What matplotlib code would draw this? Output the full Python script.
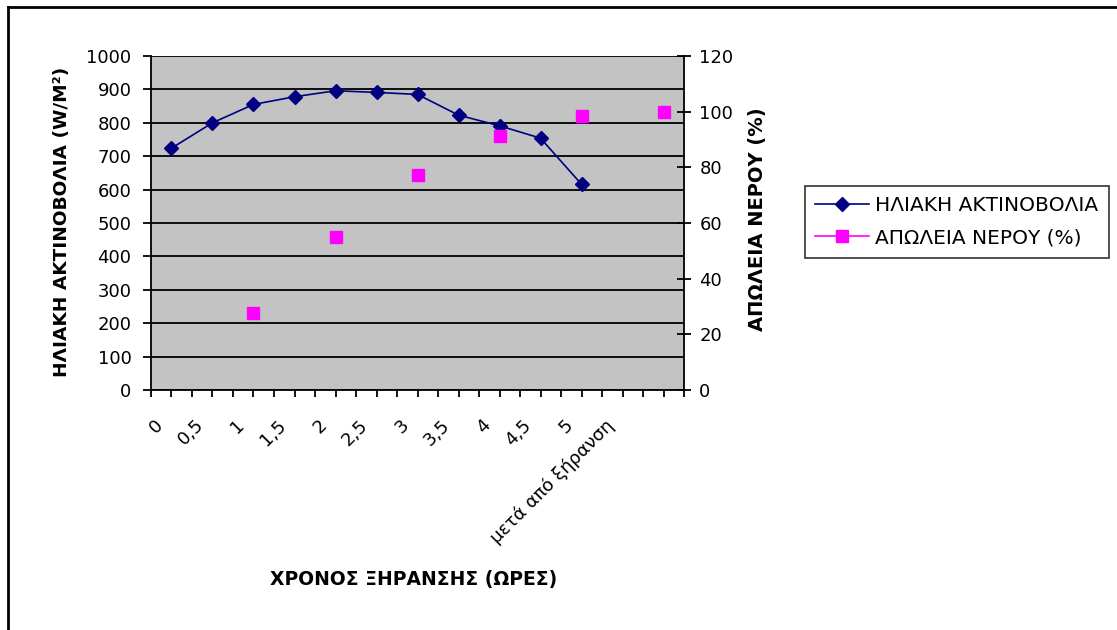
import matplotlib
matplotlib.use('Agg')
import matplotlib.pyplot as plt
import matplotlib.transforms as mtransforms
from matplotlib.lines import Line2D

# ---- data ----
categories = ['0', '0,5', '1', '1,5', '2', '2,5', '3', '3,5', '4', '4,5', '5',
              'μετά από ξήρανση', '']
radiation = [724, 800, 855, 878, 896, 891, 885, 823, 791, 754, 616]   # W/m²
water_cat_index = [2, 4, 6, 8, 10, 12]
water_loss = [27.6, 54.9, 77.3, 91.4, 98.6, 100]                     # %
left_ticks = list(range(0, 1001, 100))
right_ticks = list(range(0, 121, 20))

plt.rcParams['font.family'] = ['DejaVu Sans']

W, H = 1117, 630
fig = plt.figure(figsize=(W / 100, H / 100), dpi=100)
fig.patch.set_facecolor('white')

L, R, T, B = 151, 684, 56, 390
ax = fig.add_axes([L / W, 1 - B / H, (R - L) / W, (B - T) / H])
ax2 = ax.twinx()

ncat = len(categories)
pos = [2 * i + 1 for i in range(ncat)]          # category centres
ax.set_xlim(0, 2 * ncat)
ax.set_xticks(range(0, 2 * ncat + 1))
ax.set_xticklabels([])

ax.set_facecolor('#c3c3c3')
ax.set_ylim(0, 1000)
ax.set_yticks(left_ticks)
ax.set_yticklabels([str(v) for v in left_ticks], fontsize=13)
ax.grid(axis='y', color='black', lw=1.3)
ax.set_axisbelow(True)

ax2.set_ylim(0, 120)
ax2.set_yticks(right_ticks)
ax2.set_yticklabels([str(v) for v in right_ticks], fontsize=13)

for a in (ax, ax2):
    a.spines['top'].set_visible(False)
    for s in a.spines.values():
        s.set_linewidth(1.3)
        s.set_color('black')
ax.spines['right'].set_visible(False)
ax2.spines['left'].set_visible(False)
ax2.spines['bottom'].set_visible(False)

ax.tick_params(axis='y', direction='out', length=6, width=1.3, pad=8)
ax.tick_params(axis='x', direction='out', length=5, width=1.3)
ax2.tick_params(axis='y', direction='inout', length=10, width=1.3, pad=6)

ax.plot(pos[:len(radiation)], radiation, color='#000080', lw=1.2,
        marker='D', ms=7.5, mfc='#000080', mec='#000080', zorder=5)
ax2.plot([pos[i] for i in water_cat_index], water_loss, ls='none',
         marker='s', ms=8.5, mfc='#ff00ff', mec='#ff00ff', zorder=5)

# rotated category labels
offset = mtransforms.ScaledTranslation(-18 / 100, -26 / 100, fig.dpi_scale_trans)
trans = mtransforms.blended_transform_factory(ax.transData, ax.transAxes) + offset
for p, lab in zip(pos, categories):
    if lab:
        ax.text(p, 0, lab, rotation=45, ha='right', va='top',
                rotation_mode='anchor', transform=trans, fontsize=13)

# axis titles
fig.text(62 / W, 1 - 222 / H, 'ΗΛΙΑΚΗ ΑΚΤΙΝΟΒΟΛΙΑ (W/M²)', rotation=90,
         ha='center', va='center', fontsize=13.3, fontweight='bold')
fig.text(757 / W, 1 - 219 / H, 'ΑΠΩΛΕΙΑ ΝΕΡΟΥ (%)', rotation=90,
         ha='center', va='center', fontsize=14, fontweight='bold')
fig.text(414 / W, 1 - 580 / H, 'ΧΡΟΝΟΣ ΞΗΡΑΝΣΗΣ (ΩΡΕΣ)',
         ha='center', va='center', fontsize=13.5, fontweight='bold')

h1 = Line2D([], [], color='#000080', lw=1.2, marker='D', ms=7.5,
            mfc='#000080', mec='#000080')
h2 = Line2D([], [], color='#ff00ff', lw=1.2, marker='s', ms=8.5,
            mfc='#ff00ff', mec='#ff00ff')
leg = fig.legend(handles=[h1, h2], labels=['ΗΛΙΑΚΗ ΑΚΤΙΝΟΒΟΛΙΑ', 'ΑΠΩΛΕΙΑ ΝΕΡΟΥ (%)'],
                 loc='center left', bbox_to_anchor=(805 / W, 1 - 222 / H),
                 bbox_transform=fig.transFigure, fontsize=14.5,
                 frameon=True, fancybox=False, shadow=False,
                 handlelength=2.7, handletextpad=0.3, borderpad=0.5,
                 labelspacing=0.65, borderaxespad=0)
leg.get_frame().set_edgecolor('black')
leg.get_frame().set_linewidth(1.2)

# outer frame (top and left edges)
fig.add_artist(Line2D([8 / W, 1], [1 - 7 / H, 1 - 7 / H], transform=fig.transFigure,
                      color='black', lw=2))
fig.add_artist(Line2D([8 / W, 8 / W], [0, 1 - 7 / H], transform=fig.transFigure,
                      color='black', lw=2))

fig.savefig('out.png', dpi=100, facecolor='white')
